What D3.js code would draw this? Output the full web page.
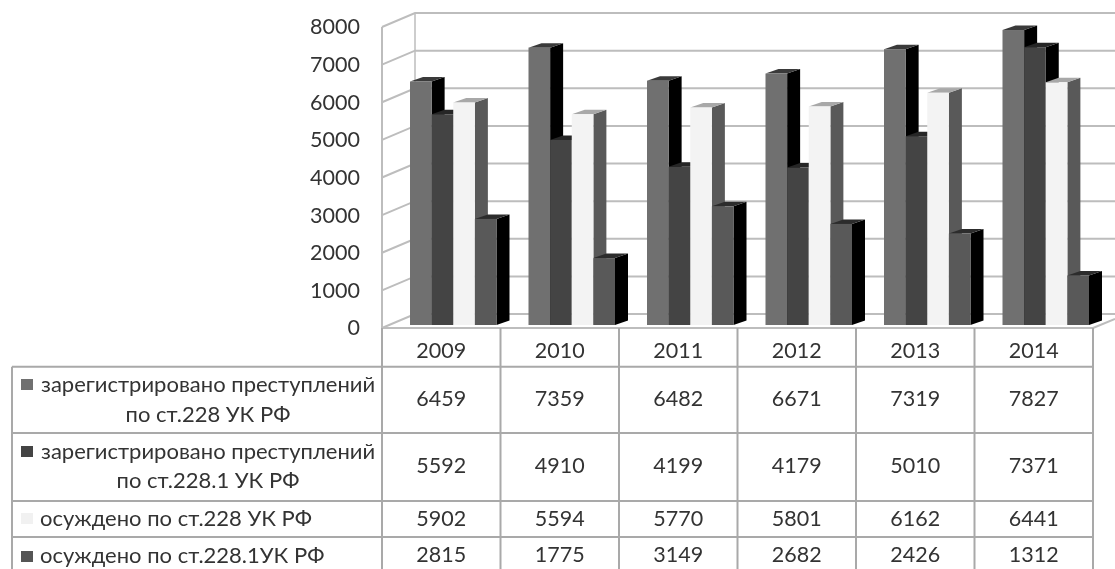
<!DOCTYPE html>
<html><head><meta charset="utf-8">
<script src="https://cdn.jsdelivr.net/npm/d3@7/dist/d3.min.js"></script>
<style>html,body{margin:0;background:#fff}svg{display:block;filter:blur(.6px)}text{font-family:Lato,"Open Sans",sans-serif;fill:#333}</style>
</head><body><svg id="c" width="1115" height="569"></svg>
<script>
const years=[2009,2010,2011,2012,2013,2014];
const tickValues=[0,1000,2000,3000,4000,5000,6000,7000,8000];
const reg228=[6459,7359,6482,6671,7319,7827];
const reg2281=[5592,4910,4199,4179,5010,7371];
const conv228=[5902,5594,5770,5801,6162,6441];
const conv2281=[2815,1775,3149,2682,2426,1312];
const seriesValues=[reg228,reg2281,conv228,conv2281];
const seriesLabels=[["зарегистрировано преступлений","по ст.228 УК РФ"],["зарегистрировано преступлений","по ст.228.1 УК РФ"],["осуждено по ст.228 УК РФ"],["осуждено по ст.228.1УК РФ"]];
const frontColors=["#707070","#444444","#f3f3f3","#595959"];
const sideColors=["#000000","#000000","#595959","#000000"];
const topColors=["#3a3a3a","#262626","#a8a8a8","#2c2c2c"];
const legendColors=["#707070","#444444","#f1f1f1","#555555"];

const svg=d3.select("#c");
const grid="#bdbdbd", tbl="#a9a9a9";
const wallY=d3.scaleLinear().domain([0,8000]).range([328,27]);
const barY=d3.scaleLinear().domain([0,8000]).range([325,23.5]);
const tableX=d3.scaleBand().domain(years).range([382,1093]);
const groupX=d3.scaleBand().domain(years).range([410,1121]);
const barW=86.5/4, wallDx=33, wallDy=14, barDx=13, barDy=4.5;
const barX=(yi,si)=>groupX(years[yi])+si*barW;

const g=svg.append("g").attr("fill","none").attr("stroke",grid).attr("stroke-width",2);
g.append("line").attr("x1",382).attr("x2",382).attr("y1",wallY(8000)).attr("y2",wallY(0));
g.append("line").attr("x1",382+wallDx).attr("x2",382+wallDx).attr("y1",wallY(8000)-wallDy).attr("y2",wallY(0)-wallDy).attr("stroke-width",1.5);
tickValues.forEach(v=>{
  g.append("path").attr("d",d3.line()([[382,wallY(v)],[382+wallDx,wallY(v)-wallDy],[1115,wallY(v)-wallDy]]));
});
g.append("path").attr("d",d3.line()([[1093,wallY(0)],[1115,wallY(0)-9]]));

svg.append("g").selectAll("text").data(tickValues).join("text")
  .attr("x",360).attr("y",d=>wallY(d)+2).attr("text-anchor","end").attr("dominant-baseline","middle")
  .attr("font-size",21.5).text(d=>d);

years.forEach((yr,yi)=>{
  seriesValues.forEach((vals,si)=>{
    const x=barX(yi,si), y=barY(vals[yi]), b=barY(0), w=barW;
    const bg=svg.append("g");
    bg.append("path").attr("fill",sideColors[si]).attr("d",d3.line()([[x+w,y],[x+w+barDx,y-barDy],[x+w+barDx,b-barDy],[x+w,b]])+"Z");
    bg.append("path").attr("fill",topColors[si]).attr("d",d3.line()([[x,y],[x+barDx,y-barDy],[x+w+barDx,y-barDy],[x+w,y]])+"Z");
    bg.append("rect").attr("x",x).attr("y",y).attr("width",w).attr("height",b-y).attr("fill",frontColors[si]);
  });
});

const rowTops=[366.7,433,501,537,572];
const t=svg.append("g").attr("stroke",tbl).attr("stroke-width",2).attr("fill","none");
const colEdges=[...years.map(d=>tableX(d)),1093];
t.append("line").attr("x1",382).attr("x2",1093).attr("y1",328).attr("y2",328).attr("stroke",grid);
colEdges.forEach(x=>t.append("line").attr("x1",x).attr("x2",x).attr("y1",328).attr("y2",572));
t.append("line").attr("x1",12).attr("x2",12).attr("y1",rowTops[0]).attr("y2",572);
rowTops.slice(0,4).forEach(y=>t.append("line").attr("x1",12).attr("x2",1093).attr("y1",y).attr("y2",y));

const fs=21.5, lfs=22;
svg.append("g").selectAll("text").data(years).join("text")
  .attr("x",d=>tableX(d)+tableX.bandwidth()/2).attr("y",353).attr("text-anchor","middle").attr("dominant-baseline","middle")
  .attr("font-size",fs).text(d=>d);
const rowMid=[401,468,520.5,557], line1=[386,453,520,557.5], line2=[416,482];
const swTop=[379,446,513,551];
const lg=svg.append("g");
seriesValues.forEach((vals,si)=>{
  lg.append("rect").attr("x",21).attr("y",swTop[si]).attr("width",12).attr("height",11).attr("fill",legendColors[si]);
  const two=seriesLabels[si].length===2;
  lg.append("text").attr("x",two?41:40).attr("y",line1[si]).attr("dominant-baseline","middle")
    .attr("font-size",lfs).text(seriesLabels[si][0]);
  if(two) lg.append("text").attr("x",208).attr("y",line2[si]).attr("text-anchor","middle").attr("dominant-baseline","middle")
    .attr("font-size",lfs).text(seriesLabels[si][1]);
  lg.selectAll(null).data(vals).join("text")
    .attr("x",(d,i)=>tableX(years[i])+tableX.bandwidth()/2).attr("y",rowMid[si])
    .attr("text-anchor","middle").attr("dominant-baseline","middle").attr("font-size",fs).text(d=>d);
});
</script></body></html>
